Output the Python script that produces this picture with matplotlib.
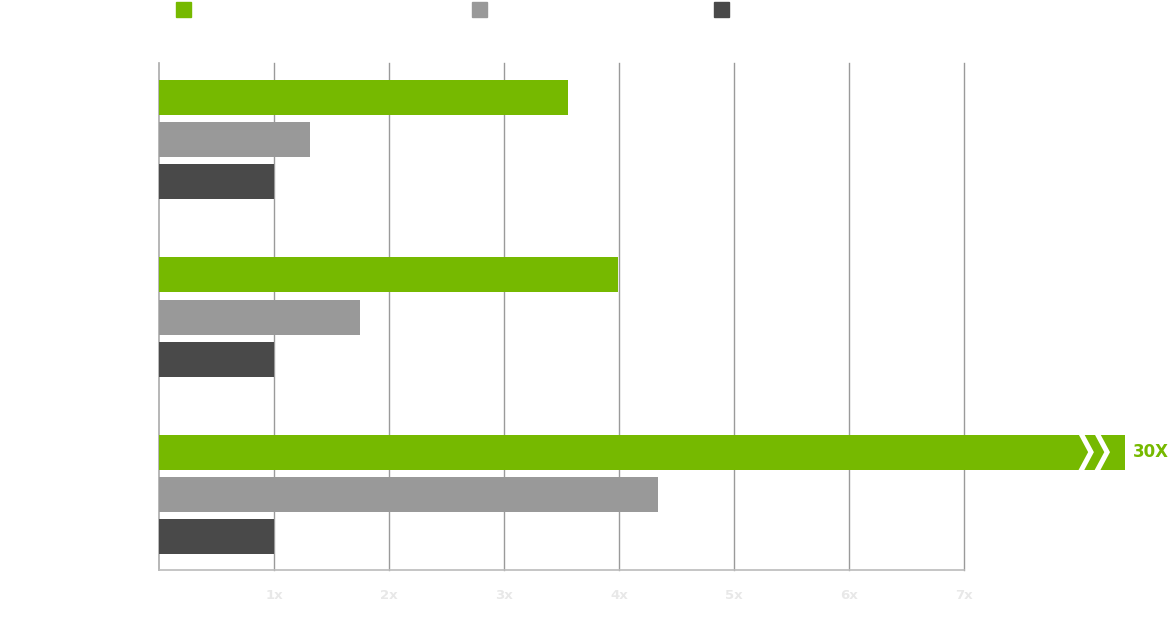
import matplotlib.pyplot as plt
from matplotlib.patches import Polygon, Rectangle

# data
groups = ['', '', '']
series = ['', '', '']
green = [3.56, 3.99, 30]
gray = [1.31, 1.75, 4.34]
dark = [1.0, 1.0, 1.0]
colors = ['#76b900', '#999999', '#494949']
ticks = [1, 2, 3, 4, 5, 6, 7]
tick_labels = ['1x', '2x', '3x', '4x', '5x', '6x', '7x']
cap = 8.4  # where the broken 30x bar is drawn to

fig = plt.figure(figsize=(11.69, 6.44), dpi=100)
ax = fig.add_axes([0.136, 0.1149, 0.6886, 0.7873])

h = 0.197
off = 0.239
for i, vals in enumerate([green, gray, dark]):
    for g, v in enumerate(vals):
        y = g + (i - 1) * off
        w = min(v, cap)
        ax.barh(y, w, height=h, color=colors[i], clip_on=False, zorder=3)
        if v > cap:
            # chevrons marking the broken bar
            d, t = 0.09, 0.05
            for x0 in [cap - 0.41, cap - 0.27]:
                pts = [(x0, y - h / 2 - 0.01), (x0 + t, y - h / 2 - 0.01),
                       (x0 + t + d, y), (x0 + t, y + h / 2 + 0.01),
                       (x0, y + h / 2 + 0.01), (x0 + d, y)]
                ax.add_patch(Polygon(pts, closed=True, color='white',
                                     clip_on=False, zorder=4, lw=0))
            ax.text(cap + 0.07, y, f'{v}X', color=colors[0], fontsize=12,
                    fontweight='bold', va='center', ha='left', clip_on=False)

ax.set_xlim(0, 7)
ax.set_ylim(2.425, -0.431)
ax.set_yticks([])
ax.set_xticks(ticks)
ax.set_xticklabels(tick_labels, color='#e8e8e8', fontsize=9.5, fontweight='bold')
ax.tick_params(axis='x', length=0, pad=14)
ax.grid(axis='x', color='#9a9a9a', linewidth=1, zorder=0)
for gl in ax.get_xgridlines():
    gl.set_clip_on(False)

for s in ['top', 'right']:
    ax.spines[s].set_visible(False)
ax.spines['left'].set_color('#aaaaaa')
ax.spines['bottom'].set_color('#bbbbbb')
ax.spines['left'].set_linewidth(1.2)
ax.spines['bottom'].set_linewidth(1.2)

# legend squares
for x_px, c in zip([176, 472, 714], colors):
    fig.patches.append(Rectangle((x_px / 1169, 1 - 17 / 644), 15 / 1169, 15 / 644,
                                 transform=fig.transFigure, color=c))

plt.savefig('out.png', dpi=100)
